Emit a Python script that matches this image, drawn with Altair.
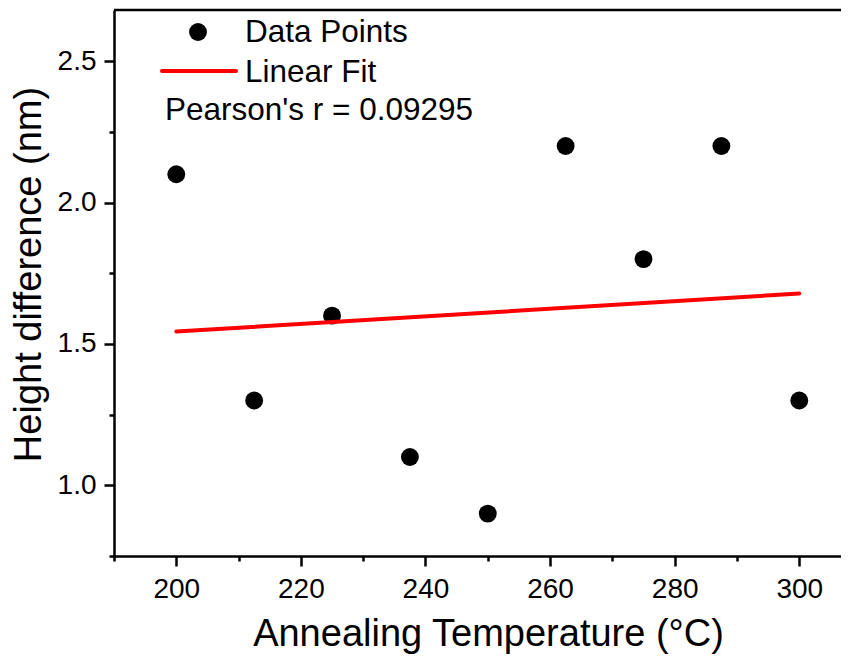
import altair as alt
import pandas as pd

# Data
temps = [200, 212.5, 225, 237.5, 250, 262.5, 275, 287.5, 300]
heights = [2.1, 1.3, 1.6, 1.1, 0.9, 2.2, 1.8, 2.2, 1.3]
fit_x = [200, 300]
fit_y = [1.544, 1.678]
x_ticks = [190, 200, 210, 220, 230, 240, 250, 260, 270, 280, 290, 300]
y_ticks = [0.75, 1.0, 1.25, 1.5, 1.75, 2.0, 2.25, 2.5]
legend_labels = ["Data Points", "Linear Fit"]
pearson_label = "Pearson's r = 0.09295"

FONT = "Liberation Sans"
W, H = 727, 546

pts = pd.DataFrame({"T": temps, "h": heights})
fit = pd.DataFrame({"T": fit_x, "h": fit_y})
one = pd.DataFrame({"k": [0]})

x_scale = alt.Scale(domain=[190, 306.7], nice=False, zero=False)
y_scale = alt.Scale(domain=[0.75, 2.681], nice=False, zero=False)

x_major = "datum.value % 20 === 0"
y_major = "abs(datum.value*2 - round(datum.value*2)) < 0.001"

common = dict(
    grid=False, labelFlush=False,
    domainColor="black", domainWidth=2.5, tickColor="black", tickWidth=2.5,
    labelFont=FONT, titleFont=FONT, labelColor="black", titleColor="black",
    titleFontWeight="normal", labelFontSize=28, titleFontSize=38,
)

x_axis = alt.Axis(
    values=x_ticks, format="d",
    labelExpr=f"{x_major} ? datum.label : ''",
    tickSize={"condition": {"test": x_major, "value": 10}, "value": 5},
    title="Annealing Temperature (°C)", titleX=374, titleAnchor="middle",
    labelPadding=9, titlePadding=12, **common,
)
y_axis = alt.Axis(
    values=y_ticks, format=".1f",
    labelExpr=f"{y_major} ? datum.label : ''",
    tickSize={"condition": {"test": y_major, "value": 10}, "value": 5},
    title="Height difference (nm)", titleY=264, titleAnchor="middle",
    labelPadding=8, titlePadding=9, **common,
)

points = alt.Chart(pts).mark_circle(size=320, color="black", opacity=1).encode(
    x=alt.X("T:Q", scale=x_scale, axis=x_axis),
    y=alt.Y("h:Q", scale=y_scale, axis=y_axis),
)

line = alt.Chart(fit).mark_line(color="#ff0000", strokeWidth=4, strokeCap="round").encode(
    x=alt.X("T:Q", scale=x_scale),
    y=alt.Y("h:Q", scale=y_scale),
)

leg_dot = alt.Chart(one).mark_circle(size=320, color="black", opacity=1).encode(
    x=alt.value(84), y=alt.value(22)
)
leg_line = alt.Chart(one).mark_rule(color="#ff0000", strokeWidth=4, strokeCap="round").encode(
    x=alt.value(48), x2=alt.value(122), y=alt.value(61)
)
leg_t1 = alt.Chart(one).mark_text(
    text=legend_labels[0], align="left", baseline="alphabetic", font=FONT, fontSize=31.5, color="black"
).encode(x=alt.value(131), y=alt.value(32))
leg_t2 = alt.Chart(one).mark_text(
    text=legend_labels[1], align="left", baseline="alphabetic", font=FONT, fontSize=31.5, color="black"
).encode(x=alt.value(131), y=alt.value(72))
pear = alt.Chart(one).mark_text(
    text=pearson_label, align="left", baseline="alphabetic", font=FONT, fontSize=31.5, color="black"
).encode(x=alt.value(51), y=alt.value(110))

top_border = alt.Chart(one).mark_rule(color="black", strokeWidth=2.5).encode(
    x=alt.value(0), x2=alt.value(W), y=alt.value(0)
)

chart = alt.layer(points, line, leg_dot, leg_line, leg_t1, leg_t2, pear, top_border).properties(
    width=W, height=H,
    background="white",
    autosize=alt.AutoSizeParams(type="none"),
    padding={"left": 106, "top": 2, "right": 0, "bottom": 100},
).configure_view(stroke=None)

chart.save("out.html", embed_options={"renderer": "svg", "actions": False})
